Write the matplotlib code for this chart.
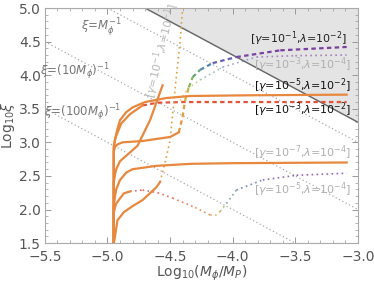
import numpy as np
import matplotlib
matplotlib.use("Agg")
import matplotlib.pyplot as plt
from matplotlib.collections import LineCollection
from matplotlib.colors import LinearSegmentedColormap
from matplotlib.ticker import MultipleLocator

# ---------------- data ----------------
x_lim = [-5.5, -3.0]
y_lim = [1.5, 5.0]
x_ticks = [-5.5, -5.0, -4.5, -4.0, -3.5, -3.0]
y_ticks = [1.5, 2.0, 2.5, 3.0, 3.5, 4.0, 4.5, 5.0]

# reference lines log xi = -log M + c
ref_offsets = [0.0, -1.0, -2.0]
bound_offset = 0.3

# gamma=1e-5, lambda=1e-2 (solid)
g5l2_x = [-4.95, -4.95, -4.94, -4.92, -4.90, -4.85, -4.80, -4.70, -4.53, -4.34, -3.90, -3.09]
g5l2_y = [1.50, 2.90, 3.05, 3.20, 3.33, 3.45, 3.52, 3.60, 3.66, 3.69, 3.70, 3.71]

# gamma=1e-3, lambda=1e-2 (solid then dashed)
g3l2_sx = [-4.95, -4.95, -4.94, -4.93, -4.89, -4.82, -4.72]
g3l2_sy = [1.50, 2.95, 3.03, 3.10, 3.28, 3.42, 3.55]
g3l2_dx = [-4.72, -4.60, -4.40, -3.09]
g3l2_dy = [3.55, 3.59, 3.60, 3.60]

# gamma=1e-1, lambda=1e-2 (solid then coloured dashed)
g1l2_sx = [-4.95, -4.95, -4.94, -4.92, -4.88, -4.72, -4.50, -4.43]
g1l2_sy = [1.50, 2.86, 2.93, 2.97, 3.00, 3.02, 3.08, 3.15]
g1l2_dx = [-4.43, -4.40, -4.38, -4.35, -4.32, -4.26, -4.16, -3.97, -3.62, -3.09]
g1l2_dy = [3.15, 3.38, 3.63, 3.82, 3.97, 4.08, 4.18, 4.27, 4.37, 4.42]
g1l2_t = [0.2, 0.25, 0.3, 0.4, 0.5, 0.6, 0.75, 0.95, 1.0, 1.0]

# steep branch
steep_x = [-4.95, -4.95, -4.94, -4.93, -4.90, -4.82, -4.76, -4.66, -4.56]
steep_y = [1.50, 2.40, 2.52, 2.60, 2.72, 2.85, 2.95, 3.33, 3.85]

# gamma=1e-7, lambda=1e-4 (solid)
g7l4_x = [-4.95, -4.95, -4.94, -4.93, -4.90, -4.85, -4.80, -4.61, -4.34, -4.00, -3.09]
g7l4_y = [1.50, 2.05, 2.20, 2.30, 2.44, 2.55, 2.60, 2.65, 2.68, 2.69, 2.70]

# gamma=1e-1, lambda=1e-1 (solid then dotted)
g1l1_sx = [-4.95, -4.94, -4.93, -4.92, -4.87, -4.80, -4.72, -4.61, -4.58]
g1l1_sy = [1.50, 1.60, 1.72, 1.84, 1.96, 2.05, 2.14, 2.33, 2.41]
g1l1_dx = [-4.58, -4.54, -4.50, -4.46, -4.42, -4.40]
g1l1_dy = [2.41, 2.70, 3.03, 3.80, 4.50, 5.00]

# gamma=1e-5, lambda=1e-4 (solid then coloured dotted)
g5l4_sx = [-4.95, -4.95, -4.94, -4.93, -4.87, -4.82]
g5l4_sy = [1.50, 1.95, 2.03, 2.09, 2.24, 2.27]
g5l4_dx = [-4.82, -4.72, -4.60, -4.48, -4.30, -4.18, -4.14, -4.10, -4.05, -3.97, -3.76, -3.49, -3.09]
g5l4_dy = [2.27, 2.29, 2.25, 2.17, 2.03, 1.92, 1.91, 1.97, 2.09, 2.29, 2.44, 2.51, 2.54]
g5l4_t = [0.0, 0.0, 0.02, 0.05, 0.1, 0.18, 0.25, 0.35, 0.5, 0.7, 0.9, 1.0, 1.0]

# gamma=1e-3, lambda=1e-4 (coloured dotted, light)
g3l4_dx = [-4.42, -4.36, -4.26, -4.08, -3.81, -3.50, -3.09]
g3l4_dy = [3.62, 3.80, 3.93, 4.12, 4.27, 4.29, 4.30]
g3l4_t = [0.2, 0.35, 0.5, 0.7, 0.9, 1.0, 1.0]

# ---------------- plot ----------------
ORANGE = '#e8873e'
GRAY_T = '#555555'
rain = LinearSegmentedColormap.from_list(
    'rain', [(0.0, '#d9483a'), (0.2, '#e8913a'), (0.35, '#c9b73a'),
             (0.5, '#6db25a'), (0.7, '#4d82c4'), (1.0, '#7b3f9e')])

fig = plt.figure(figsize=(3.74, 2.86), dpi=100)
ax = fig.add_axes([0.120, 0.150, 0.837, 0.822])
ax.set_xlim(x_lim)
ax.set_ylim(y_lim)

xx = np.array(x_lim)
# shaded excluded region
ax.fill_between(xx, -xx + bound_offset, y_lim[1], color='#e4e4e4', zorder=0)
ax.plot(xx, -xx + bound_offset, color='#666666', lw=1.0, zorder=1)
for c in ref_offsets:
    ax.plot(xx, -xx + c, color='#aaaaaa', lw=0.9, ls=(0, (1, 2)), zorder=1)


def grad(x, y, t, ls, lw, alpha=1.0):
    pts = np.column_stack([x, y])
    segs = np.stack([pts[:-1], pts[1:]], axis=1)
    cols = [rain((t[i] + t[i + 1]) / 2) for i in range(len(t) - 1)]
    lc = LineCollection(segs, colors=cols, linestyles=ls, linewidths=lw,
                        alpha=alpha, zorder=3)
    ax.add_collection(lc)


lw = 1.6
ax.plot(g7l4_x, g7l4_y, color=ORANGE, lw=lw, zorder=4)
ax.plot(g5l2_x, g5l2_y, color=ORANGE, lw=lw, zorder=4)
ax.plot(g3l2_sx, g3l2_sy, color=ORANGE, lw=lw, zorder=4)
ax.plot(g3l2_dx, g3l2_dy, color='#e0553a', lw=lw, ls=(0, (2, 1.5)), zorder=3)
ax.plot(g1l2_sx, g1l2_sy, color=ORANGE, lw=lw, zorder=4)
grad(g1l2_dx, g1l2_dy, g1l2_t, (0, (2, 1.5)), lw)
ax.plot(steep_x, steep_y, color=ORANGE, lw=lw, zorder=4)
ax.plot(g1l1_sx, g1l1_sy, color=ORANGE, lw=lw, zorder=4)
ax.plot(g1l1_dx, g1l1_dy, color='#e0a040', lw=1.2, ls=(0, (1, 2)), zorder=3)
ax.plot(g5l4_sx, g5l4_sy, color=ORANGE, lw=lw, zorder=4)
grad(g5l4_dx, g5l4_dy, g5l4_t, (0, (1, 2)), 1.2, alpha=0.8)
grad(g3l4_dx, g3l4_dy, g3l4_t, (0, (1, 2)), 1.2, alpha=0.6)

# labels
fs = 8
ax.text(-3.47, 4.54, r'[$\gamma$=10$^{-1}$,$\lambda$=10$^{-2}$]', fontsize=fs, color='#222222', ha='center', va='center', zorder=5)
ax.text(-3.44, 4.15, r'[$\gamma$=10$^{-3}$,$\lambda$=10$^{-4}$]', fontsize=fs, color='#b0b0b0', ha='center', va='center', zorder=5)
ax.text(-3.44, 3.85, r'[$\gamma$=10$^{-5}$,$\lambda$=10$^{-2}$]', fontsize=fs, color='#111111', ha='center', va='center', zorder=5)
ax.text(-3.44, 3.48, r'[$\gamma$=10$^{-3}$,$\lambda$=10$^{-2}$]', fontsize=fs, color='#111111', ha='center', va='center', zorder=5)
ax.text(-3.44, 2.84, r'[$\gamma$=10$^{-7}$,$\lambda$=10$^{-4}$]', fontsize=fs, color='#b0b0b0', ha='center', va='center', zorder=5)
ax.text(-3.44, 2.30, r'[$\gamma$=10$^{-5}$,$\lambda$=10$^{-4}$]', fontsize=fs, color='#b0b0b0', ha='center', va='center', zorder=5)
ax.text(-4.57, 4.37, r'[$\gamma$=10$^{-1}$,$\lambda$=10$^{-1}$]', fontsize=fs, color='#b8b8b8', ha='center', va='center', rotation=76, zorder=5)

ax.text(-5.05, 4.72, r'$\xi$=$M_\phi^{-1}$', fontsize=8.5, color='#777777', ha='center', va='center', zorder=5)
ax.text(-5.26, 4.05, r'$\xi$=(10$M_\phi$)$^{-1}$', fontsize=8.5, color='#777777', ha='center', va='center', zorder=5)
ax.text(-5.20, 3.44, r'$\xi$=(100$M_\phi$)$^{-1}$', fontsize=8.5, color='#777777', ha='center', va='center', zorder=5)

# axes styling
ax.set_xticks(x_ticks)
ax.set_yticks(y_ticks)
ax.set_xticklabels(['\u22125.5', '\u22125.0', '\u22124.5', '\u22124.0', '\u22123.5', '\u22123.0'])
ax.set_yticklabels(['%.1f' % v for v in y_ticks])
ax.xaxis.set_minor_locator(MultipleLocator(0.1))
ax.yaxis.set_minor_locator(MultipleLocator(0.1))
ax.tick_params(which='both', direction='in', colors='#999999', labelcolor=GRAY_T,
               labelsize=10, top=True, right=True)
ax.tick_params(which='major', length=4, width=0.7)
ax.tick_params(which='minor', length=2, width=0.5)
ax.tick_params(axis='x', pad=5)
ax.tick_params(axis='y', pad=3)
for s in ax.spines.values():
    s.set_color('#aaaaaa')
    s.set_linewidth(0.8)
ax.set_xlabel(r'Log$_{10}$($M_\phi$/$M_P$)', fontsize=10, color=GRAY_T, labelpad=0)
ax.set_ylabel(r'Log$_{10}\xi$', fontsize=10, color=GRAY_T, labelpad=1)

fig.savefig('out.png', dpi=100)
